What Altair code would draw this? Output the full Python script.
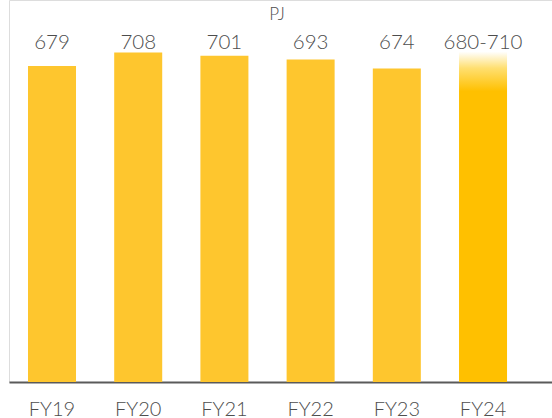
import altair as alt
import pandas as pd

# Energy consumption by financial year (PJ)
years = ["FY19", "FY20", "FY21", "FY22", "FY23", "FY24"]
values = [679, 708, 701, 693, 674, 710]
labels = ["679", "708", "701", "693", "674", "680-710"]
is_forecast = [False, False, False, False, False, True]

df = pd.DataFrame({"year": years, "value": values, "label": labels, "forecast": is_forecast})

FONT = "Lato"
WEIGHT = 300
TEXT_COLOR = "#4d4d4d"
BAR_COLOR = "#FEC62E"
FORECAST_COLOR = "#FFC000"

x = alt.X(
    "year:N",
    sort=years,
    title=None,
    scale=alt.Scale(paddingInner=0.443, paddingOuter=0.371, align=0.297),
    axis=alt.Axis(
        labelAngle=0,
        labelFont=FONT,
        labelFontWeight=WEIGHT,
        labelFontSize=20,
        labelColor=TEXT_COLOR,
        labelPadding=17,
        ticks=False,
        domainColor="#5a5a5a",
        domainWidth=2,
    ),
)
y = alt.Y("value:Q", title=None, scale=alt.Scale(domain=[0, 821]), axis=None)

base = alt.Chart(df)

actual_bars = base.transform_filter("!datum.forecast").mark_bar(color=BAR_COLOR).encode(x=x, y=y)

# Forecast range bar: solid body fading out towards the top of the range
forecast_bars = base.transform_filter("datum.forecast").mark_bar(
    color=alt.Gradient(
        gradient="linear",
        x1=0, y1=1, x2=0, y2=0,
        stops=[
            alt.GradientStop(offset=0, color=FORECAST_COLOR),
            alt.GradientStop(offset=0.88, color=FORECAST_COLOR),
            alt.GradientStop(offset=0.95, color="#FFDF70"),
            alt.GradientStop(offset=1, color="#FFFFFF"),
        ],
    )
).encode(x=x, y=y)

value_labels = base.mark_text(
    font=FONT, fontWeight=WEIGHT, fontSize=20.5, color=TEXT_COLOR, baseline="middle"
).encode(x=x, y=alt.value(43), text="label:N")

unit_label = alt.Chart(pd.DataFrame({"t": ["PJ"]})).mark_text(
    font=FONT, fontWeight=WEIGHT, fontSize=17, color=TEXT_COLOR, baseline="middle"
).encode(x=alt.value(268), y=alt.value(15), text="t:N")

chart = (
    alt.layer(actual_bars, forecast_bars, value_labels, unit_label)
    .properties(
        width=543,
        height=382,
        autosize=alt.AutoSizeParams(type="none"),
        padding={"left": 9, "top": 0, "right": 0, "bottom": 36},
    )
    .configure_view(stroke=None)
    .configure(background="white")
)

chart.save("out.html", embed_options={"renderer": "svg", "actions": False})
